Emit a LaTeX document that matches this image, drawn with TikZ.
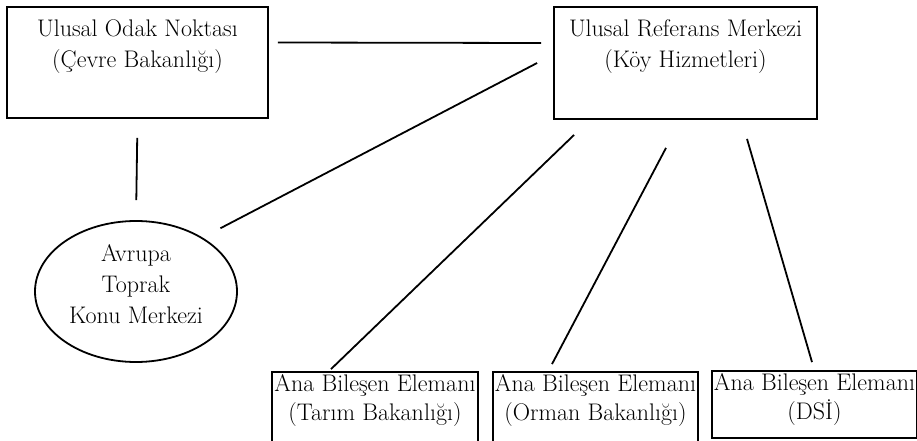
\documentclass[tikz,border=0pt]{standalone}
\usepackage{tikz}
\usetikzlibrary{shapes.geometric}

\newcommand{\kutuyazi}[5]{\parbox[c][#2][t]{#1}{\centering\fontsize{24}{#4}\selectfont\vspace*{#3}#5}}

\begin{document}
\begin{tikzpicture}[x=1pt, y=-1pt, line width=1.8pt,
    kutu/.style={draw, rectangle, inner sep=0pt},
    konu/.style={draw, ellipse, inner sep=0pt, minimum width=202pt, minimum height=141pt}]
    \useasboundingbox (0,0) rectangle (917,441);
    \clip (0,0) rectangle (917,441);

    % ust kutular
    \node[kutu] (odak) at (137.5,62.5) {\kutuyazi{261pt}{111pt}{12.3pt}{31pt}{Ulusal Odak Noktası\\(Çevre Bakanlığı)}};
    \node[kutu] (referans) at (685.5,63) {\kutuyazi{263pt}{112pt}{12.3pt}{31pt}{Ulusal Referans Merkezi\\(Köy Hizmetleri)}};

    % avrupa konu merkezi
    \node[konu] (avrupa) at (136,291.5) {\kutuyazi{140pt}{95pt}{0.5pt}{31pt}{Avrupa\\Toprak\\Konu Merkezi}};

    % alt kutular
    \node[kutu] (tarim) at (375,417) {\kutuyazi{206pt}{90pt}{2.3pt}{29pt}{Ana Bileşen Elemanı\\(Tarım Bakanlığı)}};
    \node[kutu] (orman) at (595.5,417) {\kutuyazi{205pt}{90pt}{2.3pt}{29pt}{Ana Bileşen Elemanı\\(Orman Bakanlığı)}};
    \node[kutu] (dsi) at (814.5,404.5) {\kutuyazi{205pt}{67pt}{2.3pt}{29pt}{Ana Bileşen Elemanı\\(DSİ)}};

    % baglantilar
    \draw ([shift={(9pt,20pt)}]odak.east) -- ([shift={(-12pt,20pt)}]referans.west);
    \draw[shorten <=19pt, shorten >=20pt] (odak.south) -- (avrupa.north);
    \draw[shorten <=20pt] (avrupa.39) -- ([xshift=-16pt]referans.west);
    \draw ([shift={(21pt,-15pt)}]referans.south west) -- ([shift={(-44pt,2pt)}]tarim.north);
    \draw ([shift={(-19.5pt,-28pt)}]referans.south) -- ([shift={(-43.5pt,7pt)}]orman.north);
    \draw ([shift={(61.5pt,-19pt)}]referans.south) -- ([shift={(-2.5pt,8pt)}]dsi.north);
\end{tikzpicture}
\end{document}
